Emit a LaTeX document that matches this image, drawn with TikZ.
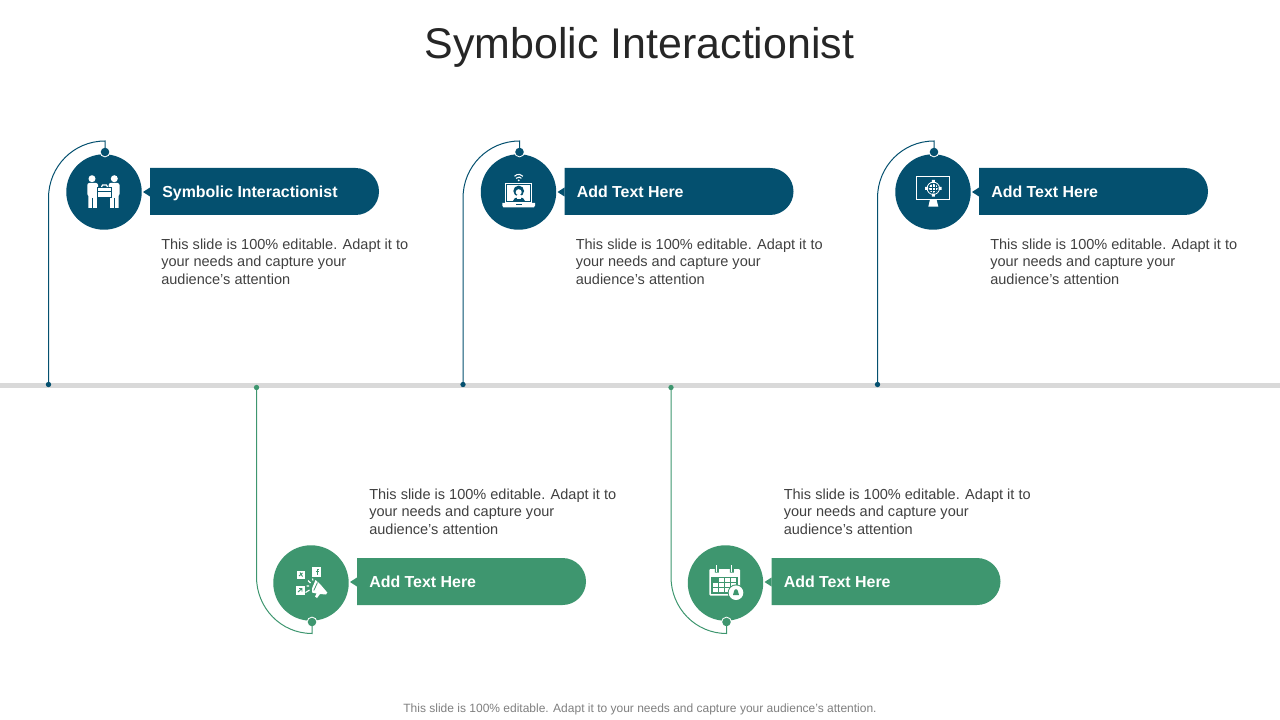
\documentclass[tikz,border=0pt]{standalone}
\usepackage{fontspec}
\setmainfont{Liberation Sans}
\usetikzlibrary{shapes.misc}
\definecolor{bluec}{HTML}{04506F}
\definecolor{greenc}{HTML}{3E966F}
\definecolor{railc}{HTML}{D9D9D9}
\definecolor{bodyc}{HTML}{404040}
\definecolor{footc}{HTML}{7F7F7F}
\tikzset{
  x=0.75pt,y=-0.75pt,
  disc/.style={circle,fill=#1,minimum size=56.6pt,inner sep=0pt},
  pill/.style={rounded rectangle,rounded rectangle west arc=none,fill=#1,minimum width=171.75pt,minimum height=35.25pt,inner sep=0pt},
  head/.style={anchor=base west,inner sep=0pt,text=white,font=\fontsize{11.95}{14}\selectfont\bfseries},
  bodytext/.style={anchor=north west,inner sep=0pt,align=left,text=bodyc,font=\fontsize{10.9}{13.25}\selectfont},
  halo/.style={circle,fill=white,minimum size=8pt,inner sep=0pt},
  knob/.style={circle,fill=#1,minimum size=6.4pt,inner sep=0pt},
  pin/.style={circle,fill=#1,minimum size=4pt,inner sep=0pt},
  wire/.style={draw=#1,line width=0.75pt},
}
\newcommand{\bodylines}{This slide is 100\% editable. Adapt it to\\your needs and capture your\\audience's attention}
% #1 id, #2 x shift, #3 heading
\newcommand{\topitem}[3]{%
 \begin{scope}[shift={(#2,0)}]
  \node[disc=bluec] (c#1) at (104,192) {};
  \node[pill=bluec] (p#1) at (264.5,191.5) {};
  \fill[bluec] (150,187.5) -- (143,192) -- (150,196.5) -- cycle;
  \node[halo] at (105,152) {};
  \node[knob=bluec] (k#1) at (105,152) {};
  \coordinate (a#1) at (105,141);
  \coordinate (e#1) at (48.5,198);
  \node[pin=bluec] (r#1) at (48.5,384.5) {};
  \draw[wire=bluec] (k#1.center) -- (a#1) .. controls +(-31.5,0) and +(0,-31.5) .. (e#1) -- (r#1.center);
  \node[head] (h#1) at (162,197.5) {#3};
  \node[bodytext] (t#1) at (161,238.4) {\bodylines};
 \end{scope}}
\newcommand{\botitem}[3]{%
 \begin{scope}[shift={(#2,0)}]
  \node[disc=greenc] (c#1) at (311,583) {};
  \node[pill=greenc] (p#1) at (471.5,581.5) {};
  \fill[greenc] (357,577.5) -- (350,582) -- (357,586.5) -- cycle;
  \node[halo] at (312,622) {};
  \node[knob=greenc] (k#1) at (312,622) {};
  \coordinate (a#1) at (312,633.5);
  \coordinate (e#1) at (256.5,577);
  \node[pin=greenc] (r#1) at (256.5,387.5) {};
  \draw[wire=greenc] (k#1.center) -- (a#1) .. controls +(-31,0) and +(0,31) .. (e#1) -- (r#1.center);
  \node[head] (h#1) at (369,587.5) {#3};
  \node[bodytext] (t#1) at (369,488.4) {\bodylines};
 \end{scope}}
\begin{document}
\begin{tikzpicture}
\useasboundingbox (0,0) rectangle (1280,720);
\fill[railc] (0,383) rectangle (1280,388);
\node[anchor=base,inner sep=0pt,text=black!85,font=\fontsize{32.2}{36}\selectfont] (title) at (639.5,59) {Symbolic Interactionist};
\topitem{A}{0}{Symbolic Interactionist}
\topitem{B}{414.5}{Add  Text Here}
\topitem{C}{829}{Add  Text Here}
\botitem{D}{0}{Add  Text Here}
\botitem{E}{414.5}{Add  Text Here}
\node[anchor=base,inner sep=0pt,text=footc,font=\fontsize{9}{11}\selectfont] (foot) at (640,712) {This slide is 100\% editable. Adapt it to your needs and capture your audience's attention.};
% icon: two people with briefcase
\fill[white] (92,178.7) circle (3.5) (114.3,178.7) circle (3.5);
\fill[white,rounded corners=1.5] (87.3,183) rectangle (98,196);
\fill[white,rounded corners=1.5] (108.7,183) rectangle (119.5,196);
\fill[white] (88.3,195) rectangle (96.8,208) (110,195) rectangle (118.5,208);
\draw[bluec,line width=0.45] (92.6,198) -- (92.6,208.5) (114.2,198) -- (114.2,208.5);
\fill[white,draw=bluec,line width=0.4] (97.5,187) rectangle (111,196.8);
\draw[bluec,line width=0.4] (97.5,191.2) -- (111,191.2);
\draw[white,line width=0.9] (101.5,187) -- (102.5,185) -- (106.5,185) -- (107.5,187);
% icon: laptop
\draw[white,line width=0.9] (505.5,183.5) rectangle (531.5,202.5);
\fill[white] (507,185) rectangle (530,201.5);
\fill[white] (502.3,203) -- (535,203) -- (535,205.5) -- (534,207.3) -- (503.3,207.3) -- (502.3,205.5) -- cycle;
\fill[bluec] (515.5,204) rectangle (521.5,205.5);
\fill[bluec] (518.7,191) circle (5.4);
\fill[white] (518.7,192.2) circle (3);
\fill[bluec] (512.8,201.5) .. controls (512.8,196) and (524.6,196) .. (524.6,201.5) -- cycle;
\fill[white] (516.8,195.5) rectangle (520.6,199.5);
\draw[white,line width=0.8] (514.5,176.3) arc[start angle=-140,end angle=-40,radius=5.5];
\draw[white,line width=0.8] (516,178.3) arc[start angle=-140,end angle=-40,radius=3.5];
\fill[white] (518.7,180.3) circle (1);
% icon: monitor
\draw[white,line width=0.9] (916.3,176.7) rectangle (949.7,199.3);
\fill[white] (930,199.5) -- (936.5,199.5) -- (938.3,206.7) -- (928.3,206.7) -- cycle;
\draw[white,line width=0.6] (933.3,188.3) circle (6.2);
\fill[white] (933.3,188.3) circle (4.4);
\draw[bluec,line width=0.35] (929,186.8) -- (937.6,186.8) (929,189.8) -- (937.6,189.8) (931.8,184) -- (931.8,192.6) (934.8,184) -- (934.8,192.6);
\fill[white] (925,186.8) rectangle (928,189.8) (938.6,186.8) rectangle (941.6,189.8)
  (931.8,180) rectangle (934.8,183) (931.8,193.6) rectangle (934.8,196.6);
% icon: megaphone
\fill[white] (296.5,570.5) rectangle (305,579);
\fill[white] (312,566.5) rectangle (320.5,577);
\fill[white] (295.5,586) rectangle (304.5,594.5);
\draw[greenc,line width=0.7] (299,576) -- (302.5,573) (300,572.5) -- (302.5,576.5);
\draw[greenc,line width=0.8] (317.5,574.5) -- (317.5,569.5) -- (318.8,569.5) (315.8,571.5) -- (318.5,571.5);
\draw[greenc,line width=0.7] (298,592) -- (302,588.5) (299,588.5) -- (302,588.5) -- (302,591.5);
\fill[white] (315.5,580) -- (320,584) -- (327.3,592.5) -- (326,594.5) -- (320,594) -- (317,598) -- (315,596.5) -- (316.5,593.5) -- (312,592.5) -- (312,588.5) -- cycle;
\draw[greenc,line width=0.6] (317.5,582.5) -- (313.8,590.5);
\draw[white,line width=0.8] (309.5,590) -- (305.5,592.5) (309,586) -- (306.5,586) (310.5,583) -- (308,580.5) (313,580.5) -- (312.5,578.5);
% icon: calendar
\fill[white,rounded corners=0.8] (709.3,569) rectangle (740,595.5);
\fill[greenc] (711.3,576.5) rectangle (738,593.5);
\foreach \i/\j in {1/0,2/0,3/0,0/1,1/1,2/1,3/1,0/2,1/2,2/2,3/2}{
  \fill[white] ({713+\i*6},{578+\j*5}) rectangle ({718+\i*6},{582+\j*5});}
\fill[greenc] (714.8,565.5) rectangle (718.8,572.5) (729.8,565.5) rectangle (733.8,572.5);
\draw[white,line width=0.9] (716.8,565) -- (716.8,571.5) (731.8,565) -- (731.8,571.5);
\fill[greenc] (736,592.7) circle (8.3);
\fill[white] (736,592.7) circle (7.3);
\fill[greenc] (733,595) .. controls (734.2,593) and (733.5,589.2) .. (736,589.2) .. controls (738.5,589.2) and (737.8,593) .. (739,595) -- cycle;
\end{tikzpicture}
\end{document}
